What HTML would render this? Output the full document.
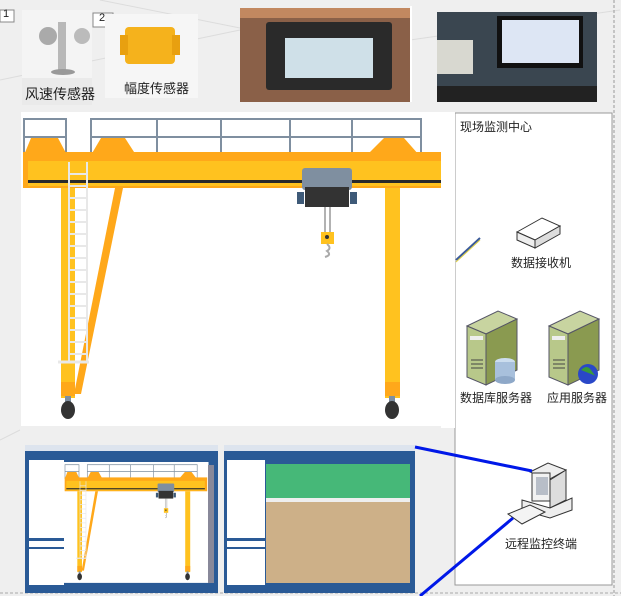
<!DOCTYPE html>
<html><head><meta charset="utf-8">
<style>
html,body{margin:0;padding:0}
body{width:621px;height:596px;overflow:hidden;background:#efefef;font-family:"Liberation Sans","Noto Sans CJK SC",sans-serif;position:relative}
.t{position:absolute;font-size:12px;color:#222;white-space:nowrap}
</style></head><body>
<svg width="621" height="596" style="position:absolute;left:0;top:0" xmlns="http://www.w3.org/2000/svg">
<defs>
<g id="crane">
  <!-- rails -->
  <g fill="none" stroke="#7f8fa0" stroke-width="2">
    <rect x="3" y="7" width="42" height="36"/>
    <line x1="3" y1="25" x2="45" y2="25"/>
    <rect x="70" y="7" width="330" height="36"/>
    <line x1="70" y1="25" x2="400" y2="25"/>
    <line x1="136" y1="7" x2="136" y2="43"/><line x1="200" y1="7" x2="200" y2="43"/>
    <line x1="269" y1="7" x2="269" y2="43"/><line x1="331" y1="7" x2="331" y2="43"/>
  </g>
  <polygon points="3,43 10,26 37,26 46,43" fill="#ffa81a"/>
  <polygon points="70,43 80,26 104,26 115,43" fill="#ffa81a"/>
  <polygon points="346,43 363,26 383,26 398,43" fill="#ffa81a"/>
  <rect x="2" y="40" width="428" height="36" fill="#ffa81a"/>
  <rect x="7" y="49" width="416" height="25" fill="#ffc21f"/>
  <rect x="7" y="68" width="416" height="3" fill="#2a2a2a"/>
  <!-- legs -->
  <rect x="40" y="76" width="14" height="210" fill="#ffc21f"/>
  <rect x="40" y="270" width="14" height="14" fill="#ffa81a"/>
  <polygon points="94,76 102,76 60,282 53,282" fill="#ffa81a"/>
  <rect x="364" y="76" width="15" height="210" fill="#ffc21f"/>
  <rect x="364" y="270" width="15" height="14" fill="#ffa81a"/>
  <rect x="44" y="284" width="6" height="8" fill="#7f8fa0"/>
  <ellipse cx="47" cy="298" rx="7" ry="9" fill="#333"/>
  <rect x="368" y="284" width="6" height="8" fill="#7f8fa0"/>
  <ellipse cx="371" cy="298" rx="7" ry="9" fill="#333"/>
  <!-- ladder -->
  <g stroke="#e8e8e8" stroke-width="2">
    <line x1="48" y1="50" x2="48" y2="250"/><line x1="66" y1="50" x2="66" y2="250"/>
    <line x1="37" y1="250" x2="68" y2="250" stroke-width="3"/>
    <path d="M48 62H66M48 74H66M48 86H66M48 98H66M48 110H66M48 122H66M48 134H66M48 146H66M48 158H66M48 170H66M48 182H66M48 194H66M48 206H66M48 218H66M48 230H66M48 242H66"/>
  </g>
  <!-- trolley -->
  <rect x="281" y="56" width="50" height="22" rx="3" fill="#7f8fa0"/>
  <rect x="284" y="75" width="44" height="20" fill="#333"/>
  <rect x="276" y="80" width="7" height="12" fill="#3e5a78"/>
  <rect x="329" y="80" width="7" height="12" fill="#3e5a78"/>
  <line x1="304" y1="95" x2="304" y2="122" stroke="#999" stroke-width="1.5"/>
  <line x1="309" y1="95" x2="309" y2="122" stroke="#999" stroke-width="1.5"/>
  <rect x="300" y="120" width="13" height="12" fill="#ffc21f"/>
  <circle cx="306" cy="125" r="2" fill="#333"/>
  <path d="M306 132 q5 4 0 7 q5 4 -2 6" stroke="#aaa" stroke-width="2" fill="none"/>
</g>
</defs>
<!-- faint background lines -->
<g stroke="#dcdcdc" stroke-width="1" fill="none">
  <line x1="100" y1="0" x2="250" y2="30"/><line x1="0" y1="80" x2="240" y2="30"/>
  <line x1="410" y1="40" x2="620" y2="10"/><line x1="0" y1="440" x2="20" y2="430"/>
</g>
<!-- top images -->
<rect x="0" y="10" width="14" height="12" fill="#fff" stroke="#888"/>
<rect x="22" y="10" width="70" height="95" fill="#f4f4f4"/>
<circle cx="48" cy="36" r="9" fill="#aaa"/><circle cx="82" cy="36" r="8" fill="#bbb"/>
<rect x="58" y="22" width="8" height="48" fill="#b8b8b8"/>
<ellipse cx="63" cy="72" rx="12" ry="3" fill="#999"/>
<rect x="22" y="78" width="70" height="27" fill="#eaeaea"/>
<rect x="93" y="13" width="20" height="14" fill="#fff" stroke="#888"/>
<rect x="105" y="14" width="93" height="84" fill="#f6f6f6"/>
<rect x="125" y="27" width="50" height="37" rx="4" fill="#f5b21c"/>
<rect x="120" y="35" width="8" height="20" fill="#e8a010"/><rect x="172" y="35" width="8" height="20" fill="#e8a010"/>
<rect x="240" y="8" width="170" height="94" fill="#8a6048"/>
<rect x="240" y="8" width="170" height="10" fill="#c28860"/>
<rect x="266" y="22" width="126" height="68" rx="3" fill="#2a2a2a"/>
<rect x="285" y="38" width="88" height="40" fill="#cfe0e8"/>
<rect x="410" y="6" width="2" height="96" fill="#fff"/>
<rect x="437" y="12" width="160" height="90" fill="#3a4650"/>
<rect x="497" y="16" width="86" height="52" fill="#111"/>
<rect x="502" y="20" width="77" height="43" fill="#dde6f4"/>
<rect x="437" y="86" width="160" height="16" fill="#222"/>
<rect x="437" y="40" width="36" height="34" fill="#d8d8d0"/>
<!-- crane main white -->
<rect x="21" y="112" width="434" height="314" fill="#fff"/>
<use href="#crane" x="21" y="112"/>
<!-- right panel -->
<rect x="455" y="113" width="157" height="472" fill="#fff" stroke="#999"/>
<rect x="441" y="112" width="14" height="316" fill="#fff"/>
<line x1="614" y1="0" x2="614" y2="596" stroke="#999" stroke-dasharray="3,2"/>
<line x1="0" y1="593" x2="621" y2="593" stroke="#aaa" stroke-dasharray="3,2"/>
<line x1="456" y1="260" x2="480" y2="238" stroke="#3a5a9a" stroke-width="2"/>
<line x1="456" y1="262" x2="480" y2="240" stroke="#e0d040" stroke-width="1"/>
<!-- receiver -->
<polygon points="517,232 542,218 560,226 535,240" fill="#fff" stroke="#333"/>
<polygon points="517,232 535,240 535,248 517,240" fill="#eee" stroke="#333"/>
<polygon points="535,240 560,226 560,234 535,248" fill="#ddd" stroke="#333"/>
<!-- servers -->
<g id="srv">
<polygon points="467,326 498,311 517,319 486,334" fill="#c8d4a0" stroke="#556"/>
<polygon points="467,326 486,334 486,385 467,377" fill="#b8c88a" stroke="#556"/>
<polygon points="486,334 517,319 517,370 486,385" fill="#8a9a50" stroke="#556"/>
<rect x="470" y="336" width="13" height="4" fill="#eee"/>
<path d="M471 360h12M471 364h12M471 368h12" stroke="#444"/>
</g>
<use href="#srv" x="82" y="0"/>
<ellipse cx="505" cy="362" rx="10" ry="4" fill="#cde"/>
<rect x="495" y="362" width="20" height="18" fill="#a8c0dc"/>
<ellipse cx="505" cy="380" rx="10" ry="4" fill="#8ea8c8"/>
<circle cx="588" cy="374" r="10" fill="#2a48c8"/><path d="M581 370q6-6 10 0t5 6" fill="#3a9a3a"/>
<!-- computer -->
<polygon points="530,472 548,463 566,470 548,480" fill="#eee" stroke="#333"/>
<rect x="532" y="473" width="18" height="28" fill="#f2f2f2" stroke="#333"/>
<rect x="536" y="477" width="12" height="18" fill="#b8bec8"/>
<polygon points="550,480 566,470 566,500 550,508" fill="#ddd" stroke="#333"/>
<polygon points="522,500 550,508 572,498 572,510 550,518 522,510" fill="#eee" stroke="#333"/>
<polygon points="508,514 530,505 545,512 522,524" fill="#f4f4f4" stroke="#333"/>
<!-- screenshots -->
<rect x="25" y="445" width="193" height="148" fill="#2a5a96"/>
<rect x="25" y="445" width="193" height="6" fill="#dde4ee"/>
<rect x="29" y="460" width="35" height="78" fill="#fff"/>
<rect x="29" y="549" width="35" height="36" fill="#fff"/>
<rect x="29" y="541" width="35" height="6" fill="#fff"/>
<g transform="translate(64,462) scale(0.333,0.385)"><rect x="0" y="0" width="434" height="314" fill="#fff"/><use href="#crane"/></g>
<rect x="208" y="465" width="6" height="118" fill="#889"/>
<rect x="224" y="445" width="191" height="148" fill="#2a5a96"/>
<rect x="224" y="445" width="191" height="6" fill="#dde4ee"/>
<rect x="227" y="460" width="38" height="78" fill="#fff"/>
<rect x="227" y="549" width="38" height="36" fill="#fff"/>
<rect x="227" y="541" width="38" height="6" fill="#fff"/>
<rect x="266" y="464" width="144" height="34" fill="#46b878"/>
<rect x="266" y="498" width="144" height="85" fill="#cdb088"/>
<rect x="266" y="498" width="144" height="4" fill="#eee"/>
<!-- blue lines -->
<line x1="415" y1="447" x2="532" y2="471" stroke="#0018e8" stroke-width="3"/>
<line x1="513" y1="518" x2="420" y2="596" stroke="#0018e8" stroke-width="3"/>
</svg>
<div class="t" style="left:3px;top:8px;font-size:11px">1</div>
<div class="t" style="left:99px;top:12px;font-size:11px">2</div>
<div class="t" style="left:25px;top:84px;font-size:14px">风速传感器</div>
<div class="t" style="left:124px;top:78px;font-size:13px">幅度传感器</div>
<div class="t" style="left:460px;top:118px;font-size:12px">现场监测中心</div>
<div class="t" style="left:511px;top:254px;font-size:12px">数据接收机</div>
<div class="t" style="left:460px;top:389px;font-size:12px">数据库服务器</div>
<div class="t" style="left:547px;top:389px;font-size:12px">应用服务器</div>
<div class="t" style="left:505px;top:535px;font-size:12px">远程监控终端</div>
</body></html>
